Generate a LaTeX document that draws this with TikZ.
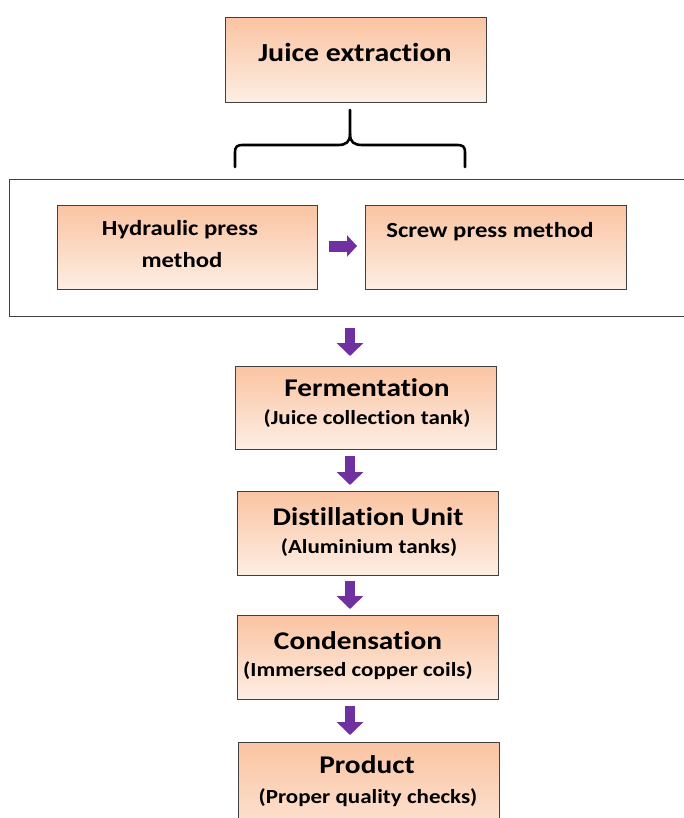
\documentclass[tikz,border=0pt]{standalone}
\usepackage{fontspec}
\setmainfont{Carlito}[FakeStretch=1.15, Ligatures=NoCommon]
\usetikzlibrary{arrows.meta}
\definecolor{boxtop}{RGB}{250,196,162}
\definecolor{boxbot}{RGB}{253,238,228}
\definecolor{boxline}{RGB}{64,64,64}
\definecolor{arrpurple}{RGB}{112,48,160}
\tikzset{
  stepbox/.style={draw=boxline, line width=1.1pt, top color=boxtop, bottom color=boxbot,
    minimum width=261pt, inner sep=0pt, anchor=north west},
  titletext/.style={font=\bfseries\fontsize{25.5}{30}\selectfont, anchor=base, inner sep=0pt},
  subtext/.style={font=\bfseries\fontsize{20}{24}\selectfont, anchor=base, inner sep=0pt},
  midtext/.style={font=\bfseries\fontsize{21.5}{26}\selectfont, anchor=base, inner sep=0pt},
  downarr/.style={draw=arrpurple, line width=10pt, -{Triangle[width=26pt,length=13pt]}},
  sidearr/.style={draw=arrpurple, line width=11pt, -{Triangle[width=21pt,length=10pt]}},
  brace/.style={draw=black, line width=2.6pt, line cap=round, line join=round}
}
\begin{document}
\begin{tikzpicture}[x=1pt,y=-1pt]
\useasboundingbox (0,0) rectangle (684,818);
\clip (0,0) rectangle (684,818);
\fill[white] (0,0) rectangle (684,818);
% top box
\node[stepbox, minimum height=85pt] (juice) at (225,17) {};
\node[titletext, font=\bfseries\fontsize{26}{30}\selectfont] (tjuice) at (355,62) {Juice extraction};
% brace
\draw[brace] (235,167) -- (235,153) .. controls (235,146) and (237,145) .. (244,145) -- (338,145)
  .. controls (346,145) and (350,142) .. (350,134) -- (350,110);
\draw[brace] (350,134) .. controls (350,142) and (354,145) .. (362,145) -- (456,145)
  .. controls (463,145) and (465,146) .. (465,153) -- (465,167);
% outer box
\node[draw=boxline, line width=1.3pt, minimum width=690pt, minimum height=137pt, anchor=north west, inner sep=0pt] (outer) at (9,179) {};
\node[stepbox, minimum width=260pt, minimum height=84pt] (hyd) at (57,205) {};
\node[midtext] (thyd1) at (180,236) {Hydraulic press};
\node[midtext] (thyd2) at (182,267) {method};
\node[stepbox, minimum width=261pt, minimum height=84pt] (screw) at (365,205) {};
\node[midtext] (tscrew) at (490,237) {Screw press method};
\draw[sidearr, shorten <=11pt, shorten >=8pt] (hyd.east |- 0,246) -- (screw.west |- 0,246);
% chain
\node[stepbox, minimum height=83pt] (ferm) at (235,366) {};
\node[titletext] (tferm1) at (367,396) {Fermentation};
\node[subtext] (tferm2) at (367,424) {(Juice collection tank)};
\node[stepbox, minimum height=84pt] (dist) at (237,491) {};
\node[titletext] (tdist1) at (368,525) {Distillation Unit};
\node[subtext] (tdist2) at (369,553) {(Aluminium tanks)};
\node[stepbox, minimum height=84pt] (cond) at (237,615) {};
\node[titletext] (tcond1) at (358,649) {Condensation};
\node[subtext] (tcond2) at (358,676) {(Immersed copper coils)};
\node[stepbox, minimum height=120pt] (prod) at (238,742) {};
\node[titletext] (tprod1) at (367,773) {Product};
\node[subtext] (tprod2) at (368,803) {(Proper quality checks)};
% arrows
\coordinate (ax) at (350,0);
\draw[downarr, shorten <=11pt, shorten >=10pt] (ax |- outer.south) -- (ax |- ferm.north);
\draw[downarr, shorten <=6pt, shorten >=6pt] (ax |- ferm.south) -- (ax |- dist.north);
\draw[downarr, shorten <=5pt, shorten >=6pt] (ax |- dist.south) -- (ax |- cond.north);
\draw[downarr, shorten <=6pt, shorten >=7pt] (ax |- cond.south) -- (ax |- prod.north);
\end{tikzpicture}
\end{document}
